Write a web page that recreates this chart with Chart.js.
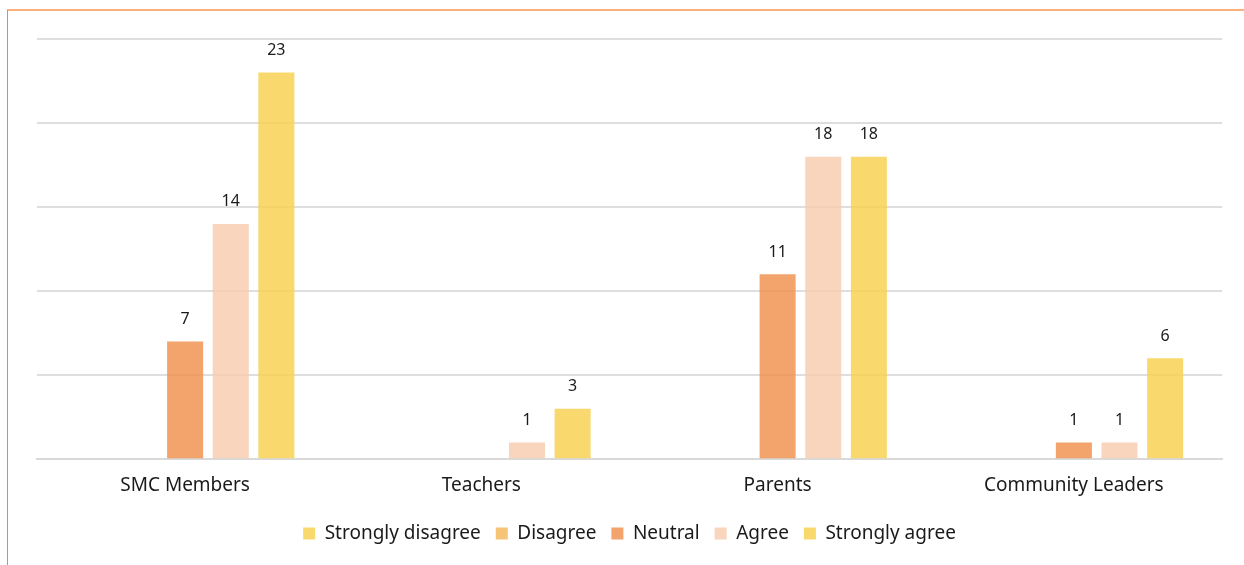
<!DOCTYPE html>
<html>
<head>
<meta charset="utf-8">
<script src="https://cdn.jsdelivr.net/npm/chart.js@4"></script>
<style>
  html, body { margin: 0; padding: 0; background: #fff; }
  .frame {
    position: absolute; left: 7px; top: 9px; width: 1237px; height: 556px;
    border-top: 2px solid #f9b07c; border-left: 1px solid #ec8a42;
  }
  .wrap { position: absolute; left: 0; top: 0; width: 1244px; height: 565px; }
</style>
</head>
<body>
<div class="frame"></div>
<div class="wrap"><canvas id="chart" width="1244" height="565"></canvas></div>
<script>
// data
const categories = ["SMC Members", "Teachers", "Parents", "Community Leaders"];
const seriesNames = ["Strongly disagree", "Disagree", "Neutral", "Agree", "Strongly agree"];
const stronglyDisagree = [0, 0, 0, 0];
const disagree = [0, 0, 0, 0];
const neutral = [7, 0, 11, 1];
const agree = [14, 1, 18, 1];
const stronglyAgree = [23, 3, 18, 6];
const yTicks = [0, 5, 10, 15, 20, 25];

const colors = [
  "rgba(248,210,83,0.85)",
  "rgba(244,186,95,0.85)",
  "rgba(240,148,82,0.85)",
  "rgba(247,206,176,0.85)",
  "rgba(248,210,83,0.85)"
];

const allSeries = [stronglyDisagree, disagree, neutral, agree, stronglyAgree];

// draw value labels above bars (zeros skipped)
const valueLabels = {
  id: "valueLabels",
  afterDatasetsDraw(chart) {
    const ctx = chart.ctx;
    ctx.save();
    ctx.font = "16px 'Noto Sans'";
    ctx.fillStyle = "#1a1a1a";
    ctx.textAlign = "center";
    ctx.textBaseline = "bottom";
    chart.data.datasets.forEach((ds, i) => {
      const meta = chart.getDatasetMeta(i);
      meta.data.forEach((bar, j) => {
        if (ds.data[j] > 0) ctx.fillText(ds.data[j], bar.x, bar.y - 14);
      });
    });
    ctx.restore();
  }
};

new Chart(document.getElementById("chart"), {
  type: "bar",
  data: {
    labels: categories,
    datasets: seriesNames.map((name, i) => ({
      label: name,
      data: allSeries[i],
      backgroundColor: colors[i],
      borderWidth: 0,
      barPercentage: 0.79,
      categoryPercentage: 0.77
    }))
  },
  options: {
    responsive: false,
    animation: false,
    layout: { padding: { left: 37, right: 22, top: 39, bottom: 12 } },
    plugins: {
      legend: {
        position: "bottom",
        labels: {
          usePointStyle: true,
          pointStyle: "rect",
          boxWidth: 12,
          boxHeight: 12,
          padding: 15,
          color: "#1a1a1a",
          font: { family: "'Noto Sans'", size: 19 }
        }
      },
      tooltip: { enabled: false }
    },
    scales: {
      x: {
        grid: { display: false },
        border: { color: "#d9d9d9", width: 2 },
        ticks: { color: "#1a1a1a", font: { family: "'Noto Sans'", size: 19 }, padding: 7 },
        afterFit(axis) { axis.height += 5; }
      },
      y: {
        min: 0,
        max: 25,
        afterBuildTicks(axis) { axis.ticks = yTicks.map(v => ({ value: v })); },
        grid: { color: "#dedede", lineWidth: 2, drawTicks: false },
        border: { display: false },
        ticks: { display: false }
      }
    }
  },
  plugins: [valueLabels]
});
</script>
</body>
</html>
